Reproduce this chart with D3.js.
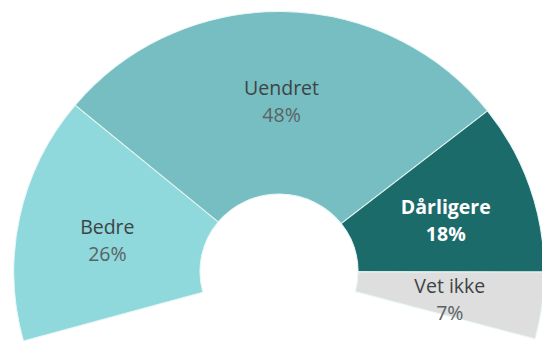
<!DOCTYPE html>
<html>
<head>
<meta charset="utf-8">
<script src="https://cdn.jsdelivr.net/npm/d3@7/dist/d3.min.js"></script>
<style>
html,body{margin:0;padding:0;background:#fff;}
svg{display:block;}
</style>
</head>
<body>
<svg id="chart" width="542" height="344"></svg>
<script>
const categories = ["Bedre", "Uendret", "Dårligere", "Vet ikke"];
const values = [26, 48, 18, 7];
const valueLabels = ["26%", "48%", "18%", "7%"];
const colors = ["#8fd8dc", "#76bec1", "#1c6b6b", "#dedede"];
const labelColors = ["#3d4446", "#3d4446", "#ffffff", "#3d4446"];
const labelWeights = ["normal", "normal", "bold", "normal"];

const cx = 279, cy = 271.5;
const rOuter = 260, rInner = 77.5;
const sx = 1.02;
const deg = Math.PI / 180;

const svg = d3.select("#chart");
const g = svg.append("g").attr("transform", `translate(${cx},${cy}) scale(${sx},1)`);

const data = categories.map((c, i) => ({ name: c, value: values[i], label: valueLabels[i], color: colors[i], tc: labelColors[i], fw: labelWeights[i] }));

const pie = d3.pie().value(d => d.value).sort(null)
  .startAngle(-105.5 * deg).endAngle(105 * deg);
const arcs = pie(data);

const arc = d3.arc().innerRadius(rInner).outerRadius(rOuter);

g.selectAll("path.slice").data(arcs).enter().append("path")
  .attr("class", "slice")
  .attr("d", arc)
  .attr("fill", d => d.data.color)
  .attr("stroke", "#e8f6f6")
  .attr("stroke-width", 1);

const lg = svg.append("g").attr("transform", `translate(${cx},${cy})`);
const labelRx = 174, labelRy = 167;
const labels = lg.selectAll("g.lbl").data(arcs).enter().append("g")
  .attr("class", "lbl")
  .attr("transform", d => {
    const a = (d.startAngle + d.endAngle) / 2 * 1.035;
    const x = labelRx * Math.sin(a);
    const y = -labelRy * Math.cos(a);
    return `translate(${x},${y})`;
  });

const fontFam = "'Open Sans', 'Noto Sans', sans-serif";
labels.append("text")
  .attr("text-anchor", "middle")
  .attr("y", -10)
  .attr("font-family", fontFam)
  .attr("font-size", 19.5)
  .attr("font-weight", d => d.data.fw)
  .attr("fill", d => d.data.tc)
  .text(d => d.data.name);

labels.append("text")
  .attr("text-anchor", "middle")
  .attr("y", 17)
  .attr("font-family", fontFam)
  .attr("font-size", 19.5)
  .attr("font-weight", d => d.data.fw)
  .attr("fill", d => d.data.fw === "bold" ? d.data.tc : "#5a6265")
  .text(d => d.data.label);
</script>
</body>
</html>
